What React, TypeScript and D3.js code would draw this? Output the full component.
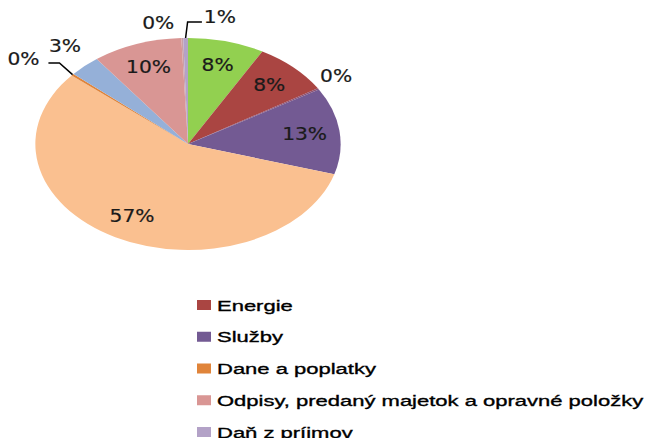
import React from "react";
import * as d3 from "d3";

const categories = [
  "Spotreba materiálu",
  "Energie",
  "Opravy a udržiavanie",
  "Služby",
  "Osobné náklady",
  "Dane a poplatky",
  "Ostatné náklady",
  "Odpisy, predaný majetok a opravné položky",
  "Finančné náklady",
  "Daň z príjmov",
];
const values = [8.1, 8.1, 0.2, 13.2, 56.6, 0.3, 3.3, 9.5, 0.2, 0.5];
const colors = [
  "#92D050",
  "#AA4542",
  "#8C5072",
  "#735A93",
  "#FAC090",
  "#E0843A",
  "#95B0D8",
  "#D99694",
  "#C9A0A8",
  "#B3A2C7",
];
// legend entries visible in the picture (indices into categories)
const legendItems = [1, 3, 5, 7, 9];

// outside label layout: angle shift (deg) and radius factor, optional leader
const outsideLayout: Record<number, { shift: number; k: number; leader?: "up" | "left" }> = {
  2: { shift: -2.3, k: 1.165 },
  5: { shift: -4.2, k: 1.344, leader: "left" },
  6: { shift: 1.5, k: 1.224 },
  8: { shift: -7.5, k: 1.16 },
  9: { shift: 10.8, k: 1.216, leader: "up" },
};

const W = 647;
const H = 438;
const cx = 188;
const cy = 144;
const R = 106;
const SX = 1.44;

export default function App() {
  const total = d3.sum(values);
  const pie = d3
    .pie<number>()
    .sort(null)
    .value((d) => d)
    .startAngle(0)
    .endAngle(2 * Math.PI);
  const arcs = pie(values);
  const arcGen = d3.arc<d3.PieArcDatum<number>>().innerRadius(0).outerRadius(R);

  const pos = (a: number, k: number) => [
    cx + SX * R * k * Math.sin(a),
    cy - R * k * Math.cos(a),
  ];

  const legendY = d3
    .scaleLinear()
    .domain([0, legendItems.length - 1])
    .range([305, 432]);

  const labelFont = {
    fontFamily: "DejaVu Sans, sans-serif",
    fontSize: 17,
    fill: "#1a1a1a",
    stroke: "#1a1a1a",
    strokeWidth: 0.2,
  };

  return (
    <svg
      width={W}
      height={H}
      style={{ position: "fixed", left: 0, top: 0, background: "#fff" }}
    >
      <rect x={0} y={0} width={W} height={H} fill="#fff" />
      <g transform={`translate(${cx},${cy}) scale(${SX},1)`}>
        {arcs.map((a, i) => (
          <path key={i} d={arcGen(a) || ""} fill={colors[i]} />
        ))}
      </g>
      {arcs.map((a, i) => {
        const mid = (a.startAngle + a.endAngle) / 2;
        const pct = Math.round((values[i] / total) * 100) + "%";
        const lay = outsideLayout[i];
        let x: number, y: number;
        let leader: string | null = null;
        if (lay) {
          [x, y] = pos(mid + (lay.shift * Math.PI) / 180, lay.k);
          const [ex, ey] = pos(mid, 1.0);
          if (lay.leader === "up") {
            leader = `M${ex},${ey} L${ex + 2},${y + 5} L${x - 18},${y + 5}`;
          } else if (lay.leader === "left") {
            leader = `M${ex},${ey} L${x + 36},${y + 4} L${x + 25},${y + 4}`;
          }
        } else {
          [x, y] = pos(mid, 0.77);
        }
        return (
          <g key={i}>
            {leader && <path d={leader} fill="none" stroke="#000" strokeWidth={1.5} />}
            <text
              transform={`translate(${x},${y}) scale(1.19,1)`}
              textAnchor="middle"
              dy="0.36em"
              {...labelFont}
            >
              {pct}
            </text>
          </g>
        );
      })}
      {legendItems.map((ci, j) => {
        const y = legendY(j);
        return (
          <g key={ci}>
            <rect x={197} y={y - 5} width={14} height={10} fill={colors[ci]} />
            <text
              transform={`translate(217,${y}) scale(1.42,1)`}
              dy="0.36em"
              fontFamily="Liberation Sans, Arial, sans-serif"
              fontSize={15.5}
              fill="#000"
              stroke="#000"
              strokeWidth={0.35}
            >
              {categories[ci]}
            </text>
          </g>
        );
      })}
    </svg>
  );
}
